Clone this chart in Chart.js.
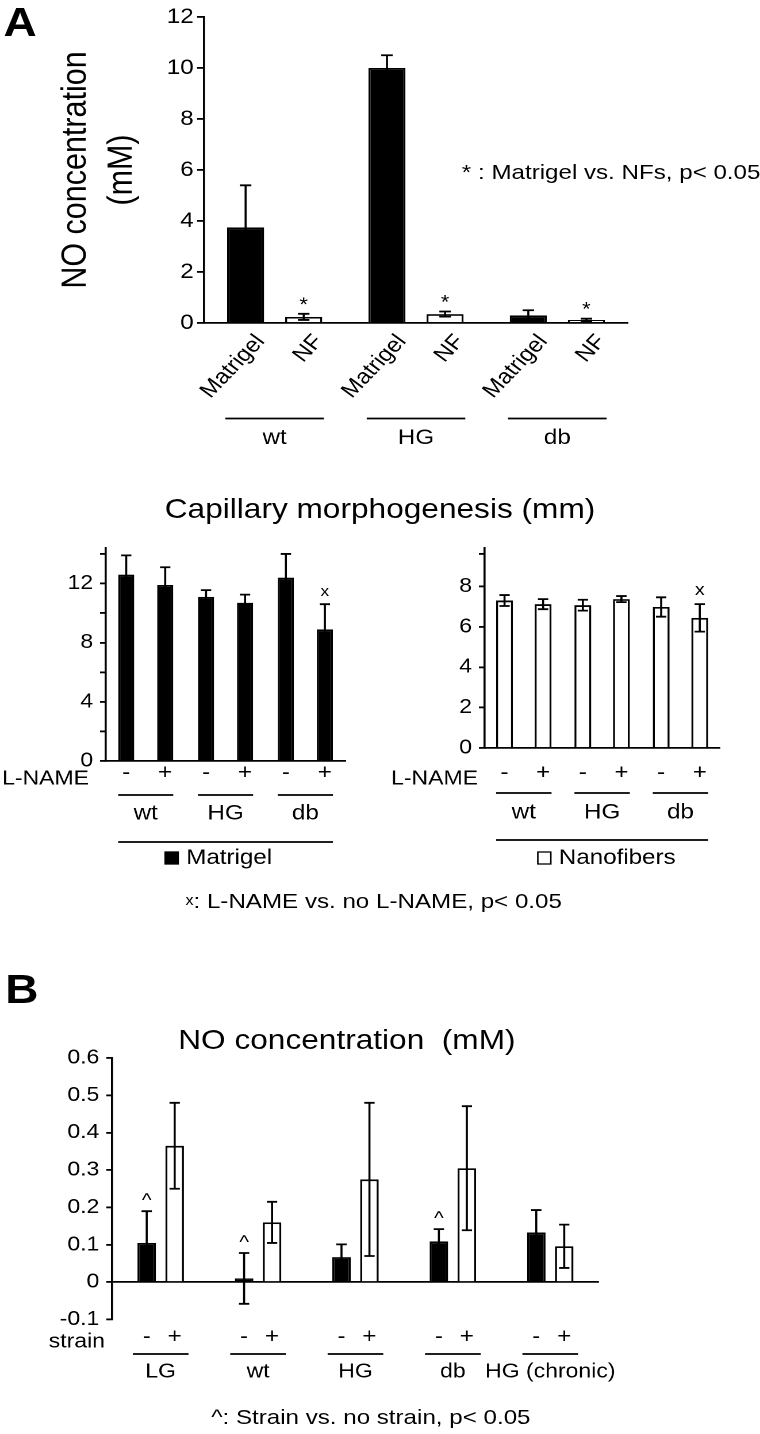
<!DOCTYPE html>
<html lang="en">
<head>
<meta charset="UTF-8">
<title>NO concentration and capillary morphogenesis</title>
<script src="https://cdn.jsdelivr.net/npm/chart.js"></script>
<style>
  html, body { margin: 0; padding: 0; background: #fff; }
  body { width: 760px; height: 1434px; overflow: hidden; position: relative; }
  /* the figure is drawn 661px wide and stretched to 760px, like the source image */
  #page { position: absolute; left: 0; top: 0; width: 661px; height: 1434px;
          transform: scaleX(1.1498); transform-origin: 0 0;
          font-family: 'Liberation Sans', Arial, Helvetica, sans-serif; color: #000; }
  #page canvas { position: absolute; }
  .t { position: absolute; white-space: pre; }
  .big { font-size: 40px; line-height: 40px; font-weight: bold; }
  .note { font-size: 21px; line-height: 24px; }
  .title { font-size: 27.5px; line-height: 32px; }
</style>
</head>
<body>
<div id="page">
  <div class="t big" style="left:3px;top:1.8px">A</div>
  <canvas id="cA" width="661" height="470" style="left:0;top:0"></canvas>
  <div class="t note" style="left:401.7px;top:159.7px">* : Matrigel vs. NFs, p&lt; 0.05</div>

  <div class="t title" style="left:0;top:493px;width:661px;text-align:center">Capillary morphogenesis (mm)</div>
  <canvas id="cL" width="330" height="345" style="left:0;top:530px"></canvas>
  <canvas id="cR" width="331" height="345" style="left:330px;top:530px"></canvas>
  <div class="t note" style="left:0;top:888px;width:650px;text-align:center"><span style="font-size:14px;vertical-align:3px">x</span>: L-NAME vs. no L-NAME, p&lt; 0.05</div>

  <div class="t big" style="left:4.5px;top:968.8px">B</div>
  <div class="t title" style="left:155px;top:1024px">NO concentration  (mM)</div>
  <canvas id="cB" width="661" height="360" style="left:0;top:1040px"></canvas>
  <div class="t note" style="left:0;top:1405px;width:645px;text-align:center">^: Strain vs. no strain, p&lt; 0.05</div>
</div>

<script>
  const FONT = "'Liberation Sans', Arial, Helvetica, sans-serif";
  Chart.defaults.font.family = FONT;
  Chart.defaults.color = '#000';

  // ---- panel A, NO concentration (mM) ----
  const noGroups = ['wt', 'HG', 'db'];
  const noSeries = ['Matrigel', 'NF'];
  const noMatrigel = [3.75, 10.0, 0.3];
  const noMatrigelErr = [1.65, 0.5, 0.2];
  const noNF = [0.24, 0.35, 0.12];
  const noNFErr = [0.12, 0.1, 0.05];
  const noNFStar = [true, true, true];
  const noTicks = [0, 2, 4, 6, 8, 10, 12];

  // ---- panel A, capillary morphogenesis (mm) ----
  const capGroups = ['wt', 'HG', 'db'];
  const lnameLevels = ['-', '+'];
  const capMedia = ['Matrigel', 'Nanofibers'];
  const capMatrigelMinus = [12.6, 11.1, 12.4];
  const capMatrigelMinusErr = [1.3, 0.45, 1.6];
  const capMatrigelPlus = [11.9, 10.7, 8.9];
  const capMatrigelPlusErr = [1.2, 0.55, 1.7];
  const capMatrigelMark = [false, false, true];
  const capMatrigelTicks = [0, 2, 4, 6, 8, 10, 12, 14];
  const capNanoMinus = [7.3, 7.07, 6.98];
  const capNanoMinusErr = [0.27, 0.27, 0.48];
  const capNanoPlus = [7.12, 7.37, 6.44];
  const capNanoPlusErr = [0.25, 0.15, 0.68];
  const capNanoMark = [false, false, true];
  const capNanoTicks = [0, 2, 4, 6, 8, 9.6];

  // ---- panel B, NO concentration (mM) under strain ----
  const bGroups = ['LG', 'wt', 'HG', 'db', 'HG (chronic)'];
  const strainLevels = ['-', '+'];
  const bNoStrain = [0.105, 0.01, 0.067, 0.109, 0.133];
  const bNoStrainErr = [0.085, 0.068, 0.034, 0.033, 0.06];
  const bStrain = [0.365, 0.16, 0.275, 0.305, 0.096];
  const bStrainErr = [0.115, 0.055, 0.205, 0.166, 0.058];
  const bCaret = [true, true, false, true, false];
  const bTicks = [-0.1, 0, 0.1, 0.2, 0.3, 0.4, 0.5, 0.6];
  const bTickLabels = ['-0.1', '0', '0.1', '0.2', '0.3', '0.4', '0.5', '0.6'];

  const LW = 1.8;
  const font = (s) => s + 'px ' + FONT;

  // error bars, significance marks and the labels under the bars
  const annot = {
    id: 'annot',
    afterDatasetsDraw(chart, args, o) {
      const ctx = chart.ctx;
      const ys = chart.scales.y;
      const sets = chart.data.datasets;
      const metas = sets.map((d, i) => chart.getDatasetMeta(i));
      ctx.save();
      ctx.strokeStyle = '#000';
      ctx.fillStyle = '#000';
      ctx.lineWidth = LW;

      metas.forEach((m, i) => {
        const ds = sets[i];
        m.data.forEach((el, j) => {
          const x = el.x;
          const top = ys.getPixelForValue(ds.data[j] + ds.err[j]);
          const bot = ys.getPixelForValue(ds.data[j] - ds.err[j]);
          ctx.beginPath();
          ctx.moveTo(x, top); ctx.lineTo(x, bot);
          ctx.moveTo(x - o.cap, top); ctx.lineTo(x + o.cap, top);
          ctx.moveTo(x - o.cap, bot); ctx.lineTo(x + o.cap, bot);
          ctx.stroke();
          if (ds.mark && ds.mark[j]) {
            ctx.font = o.markFont;
            ctx.textAlign = 'center';
            ctx.textBaseline = 'alphabetic';
            ctx.fillText(o.markText, x, top - o.markGap);
          }
          if (o.rotated) {
            ctx.save();
            ctx.translate(x + o.rotated.dx, o.rotated.y);
            ctx.rotate(-o.rotated.angle * Math.PI / 180);
            ctx.font = o.rotated.font;
            ctx.textAlign = 'right';
            ctx.textBaseline = 'middle';
            ctx.fillText(ds.label, 0, 0);
            ctx.restore();
          }
          if (o.signs) {
            ctx.font = o.signs.font;
            ctx.textAlign = 'center';
            ctx.textBaseline = 'middle';
            ctx.fillText(ds.label, x, o.signs.y);
          }
        });
      });

      if (o.rowLabel) {
        ctx.font = o.rowLabel.font;
        ctx.textAlign = 'right';
        ctx.textBaseline = 'middle';
        ctx.fillText(o.rowLabel.text, o.rowLabel.x, o.rowLabel.y);
      }

      const first = metas[0].data, last = metas[metas.length - 1].data;
      if (o.groupLine) {
        ctx.beginPath();
        first.forEach((el, j) => {
          const l = el.x - el.width / 2 - o.groupLine.ext;
          const r = last[j].x + last[j].width / 2 + o.groupLine.ext;
          ctx.moveTo(l, o.groupLine.y); ctx.lineTo(r, o.groupLine.y);
        });
        ctx.stroke();
      }

      if (o.bottom) {
        const l = first[0].x - first[0].width / 2;
        const lb = last[last.length - 1];
        const r = lb.x + lb.width / 2;
        ctx.beginPath();
        ctx.moveTo(l, o.bottom.y); ctx.lineTo(r, o.bottom.y);
        ctx.stroke();
        ctx.font = o.bottom.font;
        const tw = ctx.measureText(o.bottom.text).width;
        const box = 11.3, gap = 7;
        const sx = (l + r) / 2 - (box + gap + tw) / 2 + o.bottom.dx;
        const cy = o.bottom.legendY;
        ctx.lineWidth = 1.3;
        ctx.fillStyle = o.bottom.fill;
        ctx.fillRect(sx, cy - 6, box, 12);
        ctx.strokeRect(sx, cy - 6, box, 12);
        ctx.fillStyle = '#000';
        ctx.textAlign = 'left';
        ctx.textBaseline = 'middle';
        ctx.fillText(o.bottom.text, sx + box + gap, cy);
      }
      ctx.restore();
    }
  };

  function xAxis(size, pad, height, border) {
    return {
      grid: { display: false, drawTicks: false },
      border: { display: border, color: '#000', width: LW },
      ticks: { color: '#000', font: { size: size }, padding: pad, maxRotation: 0, autoSkip: false },
      afterFit: (s) => { s.height = height; }
    };
  }

  function yAxis(min, max, ticks, size, fmt, width, tickLen, pad) {
    return {
      min: min, max: max,
      grid: { drawOnChartArea: false, color: '#000', lineWidth: LW, tickLength: tickLen },
      border: { color: '#000', width: LW },
      ticks: { color: '#000', font: { size: size }, padding: pad, callback: fmt },
      afterBuildTicks: (s) => { s.ticks = ticks.map((v) => ({ value: v })); },
      afterFit: (s) => { s.width = width; }
    };
  }

  const quiet = { legend: { display: false }, tooltip: { enabled: false } };

  // panel A, NO concentration
  const yA = yAxis(0, 12, noTicks, 21, (v) => v, 131.4, 6, 3);
  yA.title = { display: true, text: ['NO concentration', '(mM)'], color: '#000',
               font: { size: 30.5, lineHeight: 1.31 }, padding: 0 };
  new Chart(document.getElementById('cA'), {
    type: 'bar',
    data: {
      labels: noGroups,
      datasets: [
        { label: noSeries[0], data: noMatrigel, err: noMatrigelErr, backgroundColor: '#000' },
        { label: noSeries[1], data: noNF, err: noNFErr, mark: noNFStar, backgroundColor: '#fff' }
      ]
    },
    options: {
      animation: false, responsive: false, devicePixelRatio: 2, events: [],
      layout: { padding: { left: 46, right: 114.8, top: 17, bottom: 0 } },
      datasets: { bar: { categoryPercentage: 0.822, barPercentage: 0.638, borderColor: '#000', borderWidth: LW } },
      plugins: Object.assign({}, quiet, {
        annot: { cap: 5, markText: '*', markFont: font(19), markGap: 3,
                 rotated: { y: 338, dx: 13, angle: 50, font: font(21) },
                 groupLine: { y: 418.5, ext: 1.5 } }
      }),
      scales: { x: xAxis(21, 102.4, 147, true), y: yA }
    },
    plugins: [annot]
  });

  // panel A, capillary morphogenesis on Matrigel
  new Chart(document.getElementById('cL'), {
    type: 'bar',
    data: {
      labels: capGroups,
      datasets: [
        { label: lnameLevels[0], data: capMatrigelMinus, err: capMatrigelMinusErr, backgroundColor: '#000' },
        { label: lnameLevels[1], data: capMatrigelPlus, err: capMatrigelPlusErr, mark: capMatrigelMark, backgroundColor: '#000' }
      ]
    },
    options: {
      animation: false, responsive: false, devicePixelRatio: 2, events: [],
      layout: { padding: { left: 15, right: 29.7, top: 15, bottom: 0 } },
      datasets: { bar: { categoryPercentage: 0.977, barPercentage: 0.413, borderColor: '#000', borderWidth: LW } },
      plugins: Object.assign({}, quiet, {
        annot: { cap: 4.5, markText: 'x', markFont: font(15), markGap: 8,
                 signs: { y: 243, font: font(21) },
                 rowLabel: { text: 'L-NAME', x: 77.4, y: 249, font: font(20) },
                 groupLine: { y: 265, ext: 0 },
                 bottom: { y: 312, legendY: 328, dx: -6, text: capMedia[0], fill: '#000', font: font(21) } }
      }),
      scales: {
        x: xAxis(21, 40, 114, true),
        y: yAxis(0, 14.4, capMatrigelTicks, 20, (v) => (v % 4 === 0 ? v : ''), 77, 5, 6)
      }
    },
    plugins: [annot]
  });

  // panel A, capillary morphogenesis on nanofibers
  new Chart(document.getElementById('cR'), {
    type: 'bar',
    data: {
      labels: capGroups,
      datasets: [
        { label: lnameLevels[0], data: capNanoMinus, err: capNanoMinusErr, backgroundColor: '#fff' },
        { label: lnameLevels[1], data: capNanoPlus, err: capNanoPlusErr, mark: capNanoMark, backgroundColor: '#fff' }
      ]
    },
    options: {
      animation: false, responsive: false, devicePixelRatio: 2, events: [],
      layout: { padding: { left: 15, right: 33.1, top: 15, bottom: 0 } },
      datasets: { bar: { categoryPercentage: 0.985, barPercentage: 0.437, borderColor: '#000', borderWidth: LW } },
      plugins: Object.assign({}, quiet, {
        annot: { cap: 4.5, markText: 'x', markFont: font(17), markGap: 9,
                 signs: { y: 243, font: font(21) },
                 rowLabel: { text: 'L-NAME', x: 85.7, y: 249, font: font(20) },
                 groupLine: { y: 263, ext: 0 },
                 bottom: { y: 310, legendY: 328, dx: 4, text: capMedia[1], fill: '#fff', font: font(21) } }
      }),
      scales: {
        x: xAxis(21, 52, 127, true),
        y: yAxis(0, 9.9, capNanoTicks, 20, (v) => (v % 2 === 0 ? v : ''), 76.5, 5, 6)
      }
    },
    plugins: [annot]
  });

  // panel B, zero line comes from the y grid
  const yB = yAxis(-0.1, 0.6, bTicks, 20, (v, i) => bTickLabels[i], 87.4, 5, 6);
  yB.grid = { drawOnChartArea: true, lineWidth: LW, tickLength: 5, tickColor: '#000',
              color: (c) => (c.tick && c.tick.value === 0 ? '#000' : 'rgba(0,0,0,0)') };
  new Chart(document.getElementById('cB'), {
    type: 'bar',
    data: {
      labels: bGroups,
      datasets: [
        { label: strainLevels[0], data: bNoStrain, err: bNoStrainErr, mark: bCaret, backgroundColor: '#000' },
        { label: strainLevels[1], data: bStrain, err: bStrainErr, backgroundColor: '#fff' }
      ]
    },
    options: {
      animation: false, responsive: false, devicePixelRatio: 2, events: [],
      layout: { padding: { left: 10, right: 140.1, top: 17, bottom: 0 } },
      datasets: { bar: { categoryPercentage: 0.574, barPercentage: 0.663, borderColor: '#000', borderWidth: LW } },
      plugins: Object.assign({}, quiet, {
        annot: { cap: 4.5, markText: '^', markFont: font(18), markGap: 5,
                 signs: { y: 297, font: font(21) },
                 rowLabel: { text: 'strain', x: 91.3, y: 302, font: font(20) },
                 groupLine: { y: 314, ext: 4 } }
      }),
      scales: { x: xAxis(20, 40.5, 80.5, false), y: yB }
    },
    plugins: [annot]
  });
</script>
</body>
</html>
